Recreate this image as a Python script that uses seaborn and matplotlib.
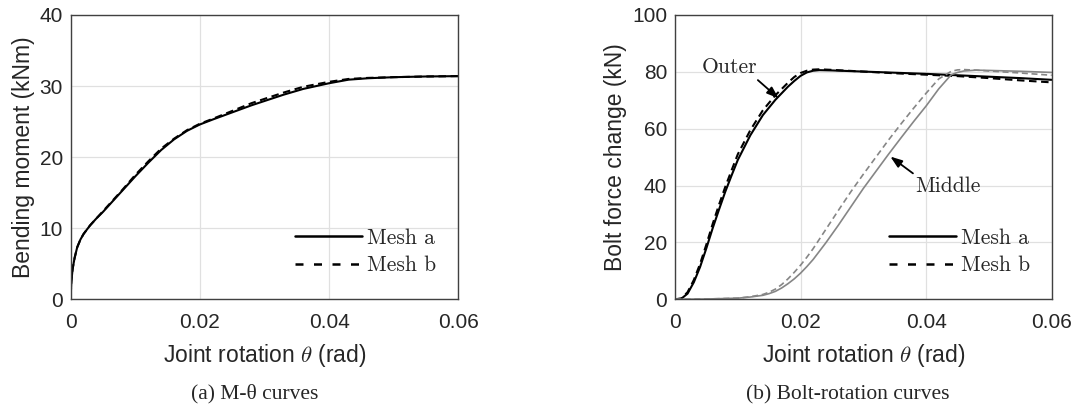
import numpy as np
import pandas as pd
import matplotlib
matplotlib.use("Agg")
import matplotlib.pyplot as plt
import seaborn as sns

# ---------------- data ----------------
theta_m = [0, 0.0001, 0.0003, 0.0006, 0.001, 0.0015, 0.002, 0.003, 0.004, 0.005,
           0.006, 0.008, 0.010, 0.012, 0.014, 0.016, 0.018, 0.020, 0.022, 0.025,
           0.028, 0.030, 0.033, 0.036, 0.040, 0.043, 0.046, 0.050, 0.055, 0.060]
moment_a = [0.5, 2.5, 4.3, 5.8, 7.3, 8.4, 9.2, 10.4, 11.4, 12.3,
            13.3, 15.3, 17.3, 19.2, 21.0, 22.5, 23.7, 24.6, 25.3, 26.3,
            27.3, 27.9, 28.8, 29.6, 30.4, 30.9, 31.1, 31.25, 31.35, 31.4]
moment_b = [0.5, 2.5, 4.3, 5.8, 7.3, 8.4, 9.2, 10.4, 11.4, 12.4,
            13.4, 15.4, 17.5, 19.4, 21.2, 22.6, 23.8, 24.7, 25.4, 26.5,
            27.6, 28.2, 29.1, 29.9, 30.6, 31.0, 31.15, 31.25, 31.35, 31.4]

theta_o = [0, 0.001, 0.002, 0.003, 0.004, 0.005, 0.006, 0.007, 0.008, 0.009,
           0.010, 0.012, 0.014, 0.016, 0.018, 0.019, 0.020, 0.021, 0.022, 0.023,
           0.025, 0.030, 0.035, 0.040, 0.045, 0.050, 0.055, 0.060]
outer_a = [0, 0.2, 2.0, 6.0, 11.4, 18.0, 25.0, 31.5, 37.8, 43.5,
           49.0, 57.7, 64.8, 70.2, 74.8, 76.8, 78.6, 79.8, 80.4, 80.6,
           80.5, 80.1, 79.7, 79.3, 78.8, 78.3, 77.8, 77.2]
outer_b = [0, 0.3, 2.5, 6.8, 12.5, 19.3, 26.5, 33.2, 39.5, 45.3,
           51.0, 59.5, 66.5, 71.8, 76.2, 78.2, 79.6, 80.4, 80.8, 80.9,
           80.7, 80.1, 79.5, 79.0, 78.5, 77.8, 77.0, 76.3]

theta_mid = [0, 0.005, 0.010, 0.012, 0.014, 0.015, 0.016, 0.017, 0.018, 0.019,
             0.020, 0.021, 0.022, 0.024, 0.026, 0.028, 0.030, 0.032, 0.034, 0.036,
             0.038, 0.040, 0.042, 0.044, 0.045, 0.046, 0.048, 0.050, 0.055, 0.060]
middle_a = [0, 0.1, 0.4, 0.8, 1.4, 2.0, 2.8, 4.0, 5.5, 7.2,
            9.2, 11.5, 14.0, 19.8, 26.0, 32.5, 39.0, 45.0, 51.0, 56.8,
            62.5, 68.0, 74.0, 79.0, 79.8, 80.3, 80.6, 80.5, 80.2, 79.8]
middle_b = [0, 0.1, 0.4, 0.9, 1.7, 2.5, 3.6, 5.2, 7.2, 9.5,
            12.0, 14.8, 17.8, 24.5, 31.2, 37.8, 44.0, 50.0, 56.0, 61.7,
            67.2, 72.5, 77.5, 80.2, 80.7, 80.8, 80.6, 80.3, 79.6, 78.8]

xticks = [0, 0.02, 0.04, 0.06]
xticklabels = ["0", "0.02", "0.04", "0.06"]
yticks_a = [0, 10, 20, 30, 40]
yticks_b = [0, 20, 40, 60, 80, 100]

# ---------------- style ----------------
sns.set_theme(style="whitegrid")
plt.rcParams["font.family"] = ["Liberation Sans", "DejaVu Sans"]
plt.rcParams["mathtext.fontset"] = "cm"

fig = plt.figure(figsize=(10.76, 4.05), dpi=100)
W, H = 1076, 405
bot = 1 - 299.3 / H
hgt = 284.3 / H
axA = fig.add_axes([70.7 / W, bot, 387.6 / W, hgt])
axB = fig.add_axes([675 / W, bot, 376.7 / W, hgt])

black = "#000000"
gray = "#868686"
dash = (3.6, 2.2)
serif = ["cmr10", "DejaVu Serif"]

# panel (a)
sns.lineplot(x=theta_m, y=moment_a, ax=axA, color=black, lw=1.5, sort=False,
             estimator=None, label="Mesh a")
sns.lineplot(x=theta_m, y=moment_b, ax=axA, color=black, lw=1.5, sort=False,
             estimator=None, label="Mesh b")
axA.lines[1].set_dashes(dash)

# panel (b)
sns.lineplot(x=theta_o, y=outer_a, ax=axB, color=black, lw=1.5, sort=False,
             estimator=None, label="Mesh a")
sns.lineplot(x=theta_o, y=outer_b, ax=axB, color=black, lw=1.5, sort=False,
             estimator=None, label="Mesh b")
sns.lineplot(x=theta_mid, y=middle_a, ax=axB, color=gray, lw=1.2, sort=False,
             estimator=None)
sns.lineplot(x=theta_mid, y=middle_b, ax=axB, color=gray, lw=1.2, sort=False,
             estimator=None)
axB.lines[1].set_dashes(dash)
axB.lines[3].set_dashes(dash)

spine_c = "#404040"
for ax, yt, ylab, legx in [(axA, yticks_a, "Bending moment (kNm)", (295 - 70.7) / 387.6),
                           (axB, yticks_b, "Bolt force change (kN)", (889 - 675) / 376.7)]:
    ax.set_xlim(0, 0.06)
    ax.set_ylim(yt[0], yt[-1])
    ax.set_xticks(xticks)
    ax.set_xticklabels(xticklabels)
    ax.set_yticks(yt)
    ax.set_yticklabels([str(v) for v in yt])
    ax.set_xlabel(r"Joint rotation $\theta$ (rad)", fontsize=16.5, labelpad=7,
                  color="#262626")
    ax.set_ylabel(ylab, fontsize=16.5, labelpad=3.5, color="#262626")
    ax.tick_params(axis="both", labelsize=15, direction="in", length=0,
                   labelcolor="#262626")
    ax.tick_params(axis="x", pad=10)
    ax.tick_params(axis="y", pad=5.5)
    ax.grid(True, color="#e0e0e0", lw=0.9)
    ax.set_facecolor("white")
    for s in ax.spines.values():
        s.set_color(spine_c)
        s.set_linewidth(1.0)
        s.set_visible(True)
    leg = ax.legend(loc="center left", frameon=False,
                    prop={"family": serif, "size": 15.5},
                    handlelength=3.1, handletextpad=0.25, labelspacing=0.36,
                    borderpad=0, borderaxespad=0,
                    bbox_to_anchor=(legx, (299.3 - 251.7) / 284.3))
    hl = leg.get_lines()
    hl[0].set_linewidth(1.8)
    hl[1].set_linewidth(1.8)
    hl[1].set_linestyle((0, (3.2, 4.2)))

# annotations
arrow = dict(arrowstyle="-|>,head_length=0.5,head_width=0.18", color=black,
             lw=1.3, shrinkA=0, shrinkB=0, mutation_scale=14)
axB.text(0.00868, 81.8, "Outer", fontsize=15.5, family=serif, ha="center",
         va="center")
axB.annotate("", xy=(0.0165, 70.7), xytext=(0.0132, 77.1), arrowprops=arrow)
axB.text(0.0434, 39.6, "Middle", fontsize=15.5, family=serif, ha="center",
         va="center")
axB.annotate("", xy=(0.0343, 50.2), xytext=(0.0379, 44.3), arrowprops=arrow)

# captions
cap_font = ["Liberation Serif", "DejaVu Serif"]
fig.text(255 / W, 1 - 394 / H, "(a) M-θ curves", ha="center", va="center",
         fontsize=15.5, family=cap_font)
fig.text(847.5 / W, 1 - 395 / H, "(b) Bolt-rotation curves", ha="center",
         va="center", fontsize=15.5, family=cap_font)

fig.savefig("out.png", dpi=100, facecolor="white")
